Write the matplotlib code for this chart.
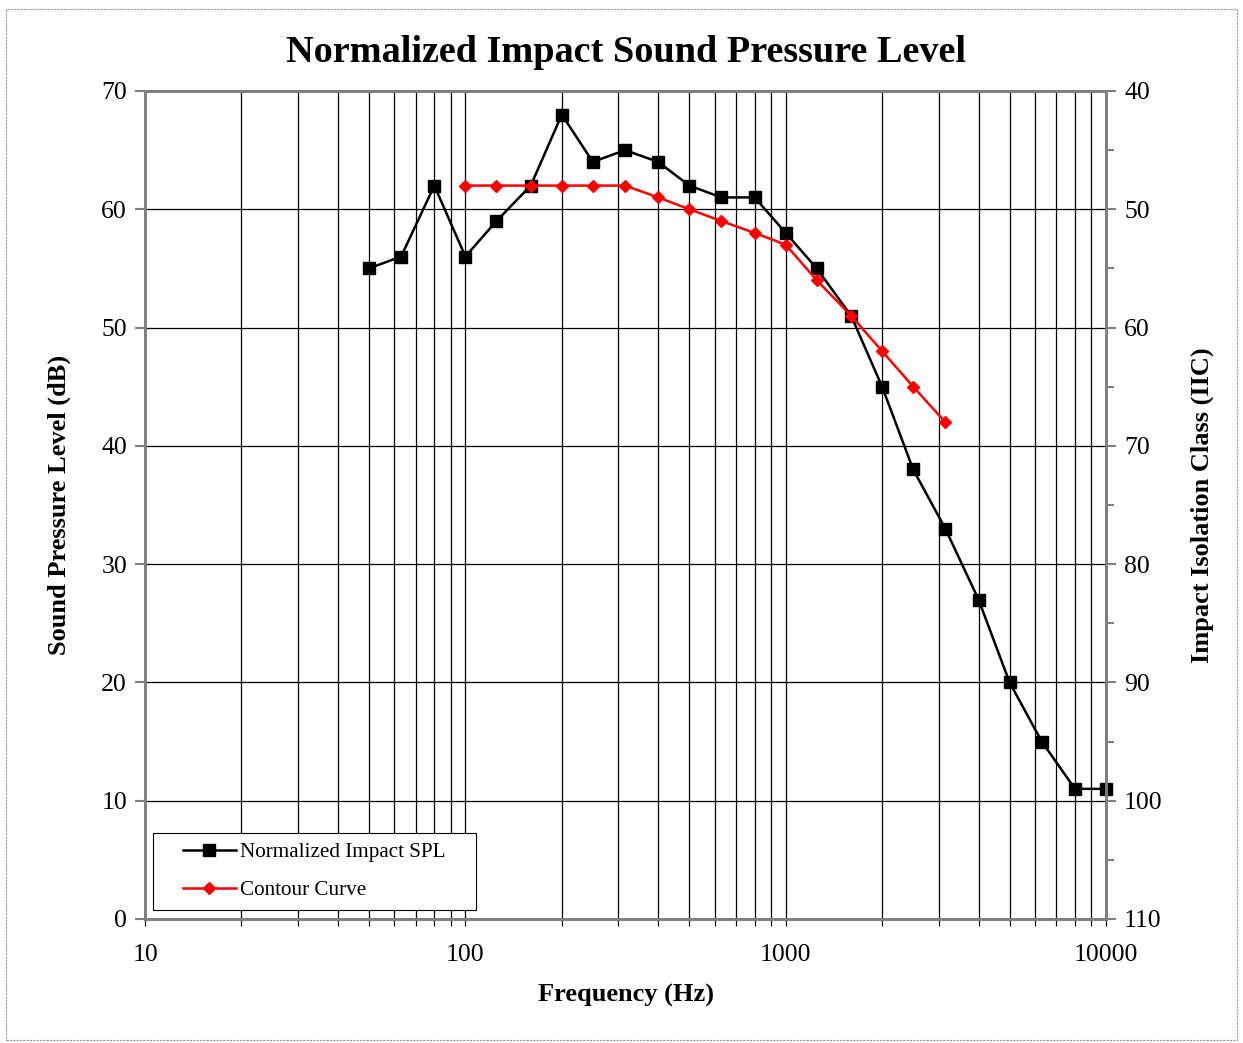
import numpy as np
import matplotlib.pyplot as plt
from matplotlib.ticker import FixedLocator, NullFormatter, MultipleLocator

plt.rcParams['font.family'] = ['Liberation Serif', 'DejaVu Serif']

freq = [50, 63, 80, 100, 125, 160, 200, 250, 315, 400, 500, 630, 800,
        1000, 1250, 1600, 2000, 2500, 3150, 4000, 5000, 6300, 8000, 10000]
spl = [55, 56, 62, 56, 59, 62, 68, 64, 65, 64, 62, 61, 61,
       58, 55, 51, 45, 38, 33, 27, 20, 15, 11, 11]

contour_freq = [100, 125, 160, 200, 250, 315, 400, 500, 630, 800,
                1000, 1250, 1600, 2000, 2500, 3150]
contour = [62, 62, 62, 62, 62, 62, 61, 60, 59, 58, 57, 54, 51, 48, 45, 42]

fig = plt.figure(figsize=(12.43, 10.43), dpi=100)
ax = fig.add_axes([0.1167, 0.1189, 0.7731, 0.7939])

ax.plot(freq, spl, color='black', lw=1.8, marker='s', ms=8,
        label='Normalized Impact SPL', zorder=3, clip_on=False)
ax.plot(contour_freq, contour, color='red', lw=1.8, marker='D', ms=6.5,
        label='Contour Curve', zorder=4, clip_on=False)

ax.set_xscale('log')
ax.set_xlim(10, 10000)
ax.set_ylim(0, 70)
ax.set_yticks(range(0, 71, 10))
ax.set_xticks([10, 100, 1000, 10000])
ax.set_xticklabels(['10', '100', '1000', '10000'])
minors = [m * d for d in (10, 100, 1000) for m in range(2, 10)]
ax.xaxis.set_minor_locator(FixedLocator(minors))
ax.xaxis.set_minor_formatter(NullFormatter())
ax.grid(True, which='major', color='black', lw=0.9)
ax.grid(True, which='minor', axis='x', color='black', lw=0.9)
ax.tick_params(axis='y', which='major', labelsize=18.5, length=7,
               color='#808080', width=1.5, pad=6)
ax.tick_params(axis='x', which='both', labelsize=18.5, length=5,
               color='black', width=0.9, pad=13)
for s in ax.spines.values():
    s.set_color('#808080')
    s.set_linewidth(2)

ax2 = ax.twinx()
ax2.set_ylim(110, 40)
ax2.yaxis.set_major_locator(MultipleLocator(10))
ax2.yaxis.set_minor_locator(MultipleLocator(5))
ax2.tick_params(axis='y', which='major', labelsize=18.5, length=7,
                color='#808080', width=1.5, pad=6)
ax2.tick_params(axis='y', which='minor', length=6, color='#808080', width=1.5)
for s in ax2.spines.values():
    s.set_color('#808080')
    s.set_linewidth(2)

ax.set_xlabel('Frequency (Hz)', fontsize=19, fontweight='bold', labelpad=13)
ax.set_ylabel('Sound Pressure Level (dB)', fontsize=19, fontweight='bold', labelpad=22)
ax2.set_ylabel('Impact Isolation Class (IIC)', fontsize=19, fontweight='bold', labelpad=20)
ax.set_title('Normalized Impact Sound Pressure Level', fontsize=27.5,
             fontweight='bold', pad=21)

# legend box drawn by hand so the padding matches
box = plt.Rectangle((0.0083, 0.0109), 0.336, 0.093, transform=ax.transAxes,
                    facecolor='white', edgecolor='black', lw=0.8, zorder=5)
ax.add_patch(box)
leg = ax.legend(loc='center left', bbox_to_anchor=(0.0395, 0.0574), fontsize=15.2,
                frameon=False, handlelength=2.5, borderpad=0.0, labelspacing=0.85,
                handletextpad=0.2, borderaxespad=0.0)
leg.set_zorder(6)

fig.patches.append(plt.Rectangle((0.005, 0.003), 0.99, 0.988, transform=fig.transFigure,
                                 fill=False, edgecolor='#999999', lw=0.8, ls=(0, (2, 1))))

fig.savefig('out.png', dpi=100)
